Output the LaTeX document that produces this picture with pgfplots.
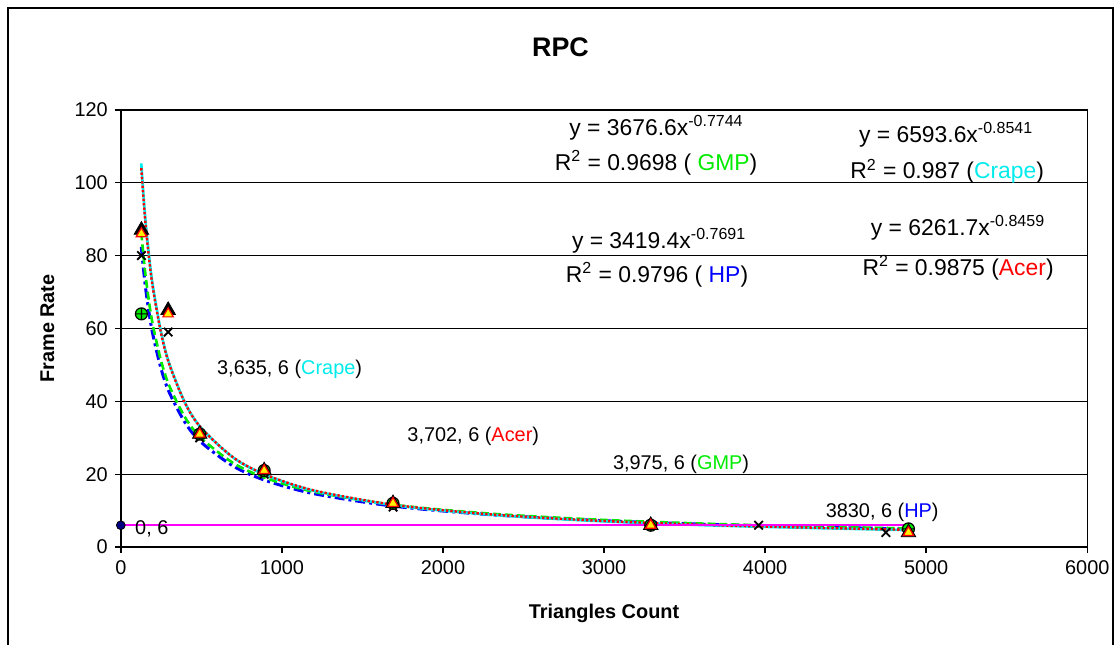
\documentclass[border=0pt]{standalone}
\usepackage{fontspec}
\setmainfont{Liberation Sans}
\usepackage{pgfplots}
\pgfplotsset{compat=1.18}
\definecolor{cGMP}{RGB}{0,235,0}
\definecolor{cHP}{RGB}{0,0,255}
\definecolor{cCrape}{RGB}{0,235,235}
\definecolor{cAcer}{RGB}{255,0,0}
\definecolor{cSix}{RGB}{255,0,255}
\definecolor{cNavy}{RGB}{0,0,128}
\newcommand{\ann}{\fontsize{11.5}{13}\selectfont}
\newcommand{\sml}{\fontsize{10}{12}\selectfont}

\begin{document}
\begin{tikzpicture}
\begin{axis}[
    scale only axis,
    width=484bp, height=219bp,
    xmin=0, xmax=6000, ymin=0, ymax=120,
    xtick={0,1000,...,6000},
    ytick={0,20,...,120},
    xtick pos=bottom, ytick pos=left,
    tick align=outside,
    major tick length=3bp,
    tick style={black, line width=0.7bp},
    axis line style={line width=0.7bp},
    ymajorgrids,
    grid style={black, line width=0.7bp},
    /pgf/number format/assume math mode=true,
    /pgf/number format/1000 sep={},
    ticklabel style={font=\sml},
    clip=false,
    xlabel={\bfseries Triangles Count},
    ylabel={\bfseries Frame Rate},
    xlabel style={at={(rel axis cs:0.5,-0.151)}, anchor=center, font=\fontsize{10}{12}\selectfont},
    ylabel style={at={(rel axis cs:-0.076,0.5)}, anchor=center, rotate=0, font=\fontsize{10}{12}\selectfont},
]

% trendlines (power fits, sampled)
\addplot[cHP, smooth, line width=1.5bp, dash pattern=on 5pt off 2pt on 1.5pt off 2pt] coordinates {
    (127,82.40) (150,72.50) (175,64.40) (200,58.11) (250,48.94) (300,42.54)
    (400,34.10) (500,28.72) (700,22.17) (900,18.27) (1200,14.65) (1700,11.20)
    (2300,8.88) (3000,7.24) (3800,6.04) (4900,4.96)
};
\addplot[cGMP, smooth, line width=1.3bp, dash pattern=on 4pt off 2pt] coordinates {
    (127,86.35) (150,75.91) (175,67.37) (200,60.75) (250,51.11) (300,44.38)
    (400,35.52) (500,29.88) (700,23.03) (900,18.95) (1200,15.17) (1700,11.58)
    (2300,9.17) (3000,7.46) (3800,6.21) (4900,5.10)
};
\addplot[cCrape, smooth, line width=1.3bp] coordinates {
    (127,105.3) (150,91.32) (175,80.05) (200,71.42) (250,59.03) (300,50.51)
    (400,39.51) (500,32.66) (700,24.50) (900,19.77) (1200,15.46) (1700,11.48)
    (2300,8.87) (3000,7.07) (3800,5.78) (4900,4.65)
};
\addplot[cAcer, smooth, line width=1.2bp, densely dotted] coordinates {
    (127,104.0) (150,90.35) (175,79.31) (200,70.84) (250,58.65) (300,50.27)
    (400,39.41) (500,32.64) (700,24.55) (900,19.85) (1200,15.56) (1700,11.59)
    (2300,8.97) (3000,7.17) (3800,5.87) (4900,4.73)
};

% 6 fps line
\addplot[cSix, line width=0.9bp] coordinates {(0,6) (4890,6)};
\addplot[only marks, mark=*, mark size=2.2bp, mark options={fill=cNavy, draw=black}] coordinates {(0,6)};

% measured points
\addplot[only marks, mark=x, mark size=3bp, mark options={black, line width=0.9bp}] coordinates {
    (128,80) (294,59) (490,30) (890,20) (1690,11) (3290,6) (3960,6) (4750,4)
};
\addplot[only marks, mark=oplus*, mark size=3bp, mark options={fill=cGMP, draw=black, line width=0.6bp}] coordinates {
    (128,64) (490,31) (890,21) (1690,12) (3290,6) (4890,5)
};
\addplot[only marks, mark=triangle*, mark size=4.2bp, mark options={fill=black, draw=black}] coordinates {
    (128,87) (294,65) (490,31) (890,21) (1690,12) (3290,6) (4890,4)
};
\addplot[only marks, mark=triangle*, mark size=3bp, mark options={fill=yellow, draw=cAcer, line width=0.6bp}] coordinates {
    (128,86) (294,64) (490,31) (890,21) (1690,12) (3290,6) (4890,4)
};

% equations
\node[font=\ann] at (axis cs:3326,115.1) {y = 3676.6x\textsuperscript{-0.7744}};
\node[font=\ann] at (axis cs:3323,105.5) {R\textsuperscript{2} = 0.9698 ( \textcolor{cGMP}{GMP})};
\node[font=\ann] at (axis cs:5124,113.2) {y = 6593.6x\textsuperscript{-0.8541}};
\node[font=\ann] at (axis cs:5130,103.1) {R\textsuperscript{2} = 0.987 (\textcolor{cCrape}{Crape})};
\node[font=\ann] at (axis cs:3342,84.1) {y = 3419.4x\textsuperscript{-0.7691}};
\node[font=\ann] at (axis cs:3329,74.8) {R\textsuperscript{2} = 0.9796 ( \textcolor{cHP}{HP})};
\node[font=\ann] at (axis cs:5198,87.7) {y = 6261.7x\textsuperscript{-0.8459}};
\node[font=\ann] at (axis cs:5198,76.7) {R\textsuperscript{2} = 0.9875 (\textcolor{cAcer}{Acer})};

% crossing points with 6 fps
\node[font=\sml] at (axis cs:1048,48.8) {3,635, 6 (\textcolor{cCrape}{Crape})};
\node[font=\sml] at (axis cs:2188,30.4) {3,702, 6 (\textcolor{cAcer}{Acer})};
\node[font=\sml] at (axis cs:3478,22.7) {3,975, 6 (\textcolor{cGMP}{GMP})};
\node[font=\sml] at (axis cs:4727,9.6) {3830, 6 (\textcolor{cHP}{HP})};
\node[font=\sml, anchor=west, inner sep=0pt] at (axis cs:87,4.9) {0, 6};

% title and chart frame
\node[font=\fontsize{13.5}{16}\selectfont\bfseries] at (rel axis cs:0.455,1.142) {RPC};
\draw[black, line width=0.8bp] (rel axis cs:-0.1167,-0.2237) -- (rel axis cs:-0.1167,1.2329)
    -- (rel axis cs:1.0269,1.2329) -- (rel axis cs:1.0269,-0.2237);
\path (rel axis cs:-0.125,1.2511) (rel axis cs:1.0280,-0.2237);
\end{axis}
\end{tikzpicture}
\end{document}
